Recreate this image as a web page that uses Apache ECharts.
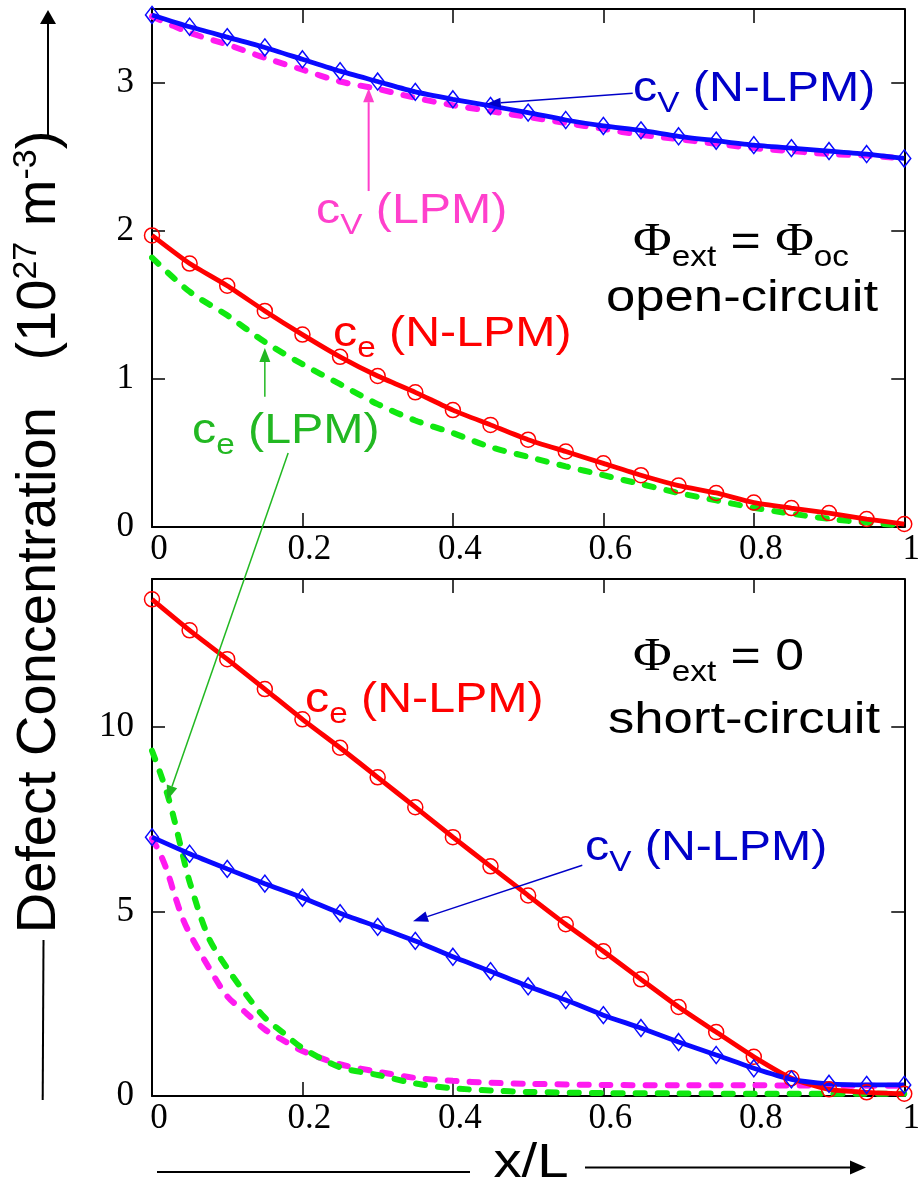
<!DOCTYPE html>
<html><head><meta charset="utf-8">
<script src="https://cdn.jsdelivr.net/npm/echarts@6/dist/echarts.min.js"></script>
<style>html,body{margin:0;padding:0;background:#fff}#c{width:923px;height:1184px}</style>
</head><body><div id="c"></div>
<script>
// ---------- data ----------
const xN = [0,0.05,0.1,0.15,0.2,0.25,0.3,0.35,0.4,0.45,0.5,0.55,0.6,0.65,0.7,0.75,0.8,0.85,0.9,0.95,1];
// top panel: open-circuit
const topCeNLPM = [1.97,1.78,1.63,1.46,1.30,1.15,1.02,0.91,0.79,0.69,0.59,0.51,0.43,0.35,0.28,0.23,0.165,0.128,0.094,0.054,0.02];
const topCeLPM  = [1.82,1.59,1.43,1.25,1.10,0.965,0.83,0.72,0.635,0.54,0.474,0.41,0.35,0.29,0.23,0.18,0.13,0.09,0.055,0.03,0.01];
const topCvNLPM = [3.46,3.38,3.31,3.24,3.16,3.08,3.01,2.94,2.89,2.845,2.80,2.75,2.71,2.68,2.64,2.61,2.58,2.56,2.54,2.52,2.49];
const topCvLPM  = [3.45,3.34,3.26,3.17,3.09,3.01,2.96,2.90,2.85,2.81,2.77,2.73,2.69,2.65,2.62,2.59,2.56,2.54,2.52,2.51,2.49];
// bottom panel: short-circuit
const botCeNLPM = [13.45,12.61,11.83,11.02,10.2,9.43,8.63,7.82,7.01,6.22,5.43,4.65,3.92,3.16,2.41,1.73,1.06,0.48,0.18,0.1,0.06];
const botCvNLPM = [7.01,6.56,6.15,5.75,5.37,4.95,4.58,4.2,3.77,3.38,2.97,2.6,2.19,1.84,1.46,1.11,0.75,0.45,0.33,0.3,0.3];
const xLPM = [0,0.01,0.02,0.03,0.04,0.05,0.075,0.1,0.125,0.15,0.175,0.2,0.25,0.3,0.35,0.4,0.45,0.5,0.6,0.7,0.8,0.9,1];
const botCeLPM = [9.35,8.8,8.2,7.45,6.6,5.8,4.3,3.46,2.75,2.12,1.7,1.3,0.78,0.57,0.34,0.21,0.15,0.11,0.08,0.07,0.06,0.06,0.06];
const botCvLPM = [6.97,6.6,6.1,5.45,4.85,4.4,3.5,2.7,2.25,1.8,1.5,1.22,0.86,0.66,0.49,0.41,0.36,0.33,0.3,0.29,0.29,0.28,0.28];
// axes
const xRange = [0, 1], xStep = 0.2;
const yTopRange = [0, 3.5], yTopStep = 1;
const yBotRange = [0, 14], yBotStep = 5;

// ---------- styles ----------
const C = {
  blue:'#0a0aff', blueTxt:'#0000c8', red:'#ff0000', mag:'#ff1af0', magTxt:'#ff40cc',
  green:'#10e810', greenTxt:'#22b822'
};
const pairs = (xs, ys) => xs.map((x,i)=>[x, ys[i]]);
const serif = 'Liberation Serif, Times New Roman, serif';
const sans = 'Liberation Sans, Arial, sans-serif';

function xAx(g, pos){
  return {gridIndex:g, type:'value', min:xRange[0], max:xRange[1], interval:xStep, position:pos,
    axisLine:{show:true, onZero:false, lineStyle:{color:'#000', width:2}},
    axisTick:{show:true, inside:true, length:14, lineStyle:{color:'#000', width:1.5}},
    axisLabel:{show:pos==='bottom', color:'#000', fontFamily:serif, fontSize:35, margin:5, padding:[0,0,0,14]},
    splitLine:{show:false}};
}
function yAx(g, pos, r, step){
  return {gridIndex:g, type:'value', min:r[0], max:r[1], interval:step, position:pos,
    axisLine:{show:true, onZero:false, lineStyle:{color:'#000', width:2}},
    axisTick:{show:true, inside:true, length:13, lineStyle:{color:'#000', width:1.5}},
    axisLabel:{show:pos==='left', color:'#000', fontFamily:serif, fontSize:35, margin:18, padding:[10,0,0,0], showMaxLabel:false},
    splitLine:{show:false}};
}
function dashed(xi, yi, data, color){
  return {type:'line', xAxisIndex:xi, yAxisIndex:yi, data, symbol:'none', smooth:0.3,
    lineStyle:{color, width:6, type:[9,13], cap:'round'}, z:2};
}
function solid(xi, yi, data, color, symbol, size){
  return {type:'line', xAxisIndex:xi, yAxisIndex:yi, data, symbol, symbolSize:size, showAllSymbol:true, smooth:0.2,
    lineStyle:{color, width:4.8}, itemStyle:{color:'rgba(255,255,255,0)', borderColor:color, borderWidth:1.5}, z:3};
}

const option = {
  animation:false, backgroundColor:'#fff',
  grid:[{left:152, right:18, top:9, height:518}, {left:152, right:18, top:579, height:517}],
  xAxis:[xAx(0,'bottom'), xAx(0,'top'), xAx(1,'bottom'), xAx(1,'top')],
  yAxis:[yAx(0,'left',yTopRange,yTopStep), yAx(0,'right',yTopRange,yTopStep), yAx(1,'left',yBotRange,yBotStep), yAx(1,'right',yBotRange,yBotStep)],
  series:[
    dashed(0,0,pairs(xN,topCeLPM),C.green),
    dashed(0,0,pairs(xN,topCvLPM),C.mag),
    solid(0,0,pairs(xN,topCeNLPM),C.red,'circle',15),
    solid(0,0,pairs(xN,topCvNLPM),C.blue,'diamond',[13,17]),
    dashed(2,2,pairs(xLPM,botCvLPM),C.mag),
    dashed(2,2,pairs(xLPM,botCeLPM),C.green),
    solid(2,2,pairs(xN,botCeNLPM),C.red,'circle',15),
    solid(2,2,pairs(xN,botCvNLPM),C.blue,'diamond',[13,17])
  ]
};
const chart = echarts.init(document.getElementById('c'));
chart.setOption(option);

// ---------- annotations ----------
const P = (g, p) => chart.convertToPixel(g===0 ? {seriesIndex:0} : {seriesIndex:4}, p);
function arrow(p0, p1, color, w, hl, hw){
  const dx=p1[0]-p0[0], dy=p1[1]-p0[1], L=Math.hypot(dx,dy), ux=dx/L, uy=dy/L;
  const bx=p1[0]-ux*hl, by=p1[1]-uy*hl, nx=-uy, ny=ux;
  return [
    {type:'line', silent:true, z:20, shape:{x1:p0[0],y1:p0[1],x2:bx,y2:by}, style:{stroke:color, lineWidth:w}},
    {type:'polygon', silent:true, z:20, shape:{points:[[p1[0],p1[1]],[bx+nx*hw/2,by+ny*hw/2],[bx-nx*hw/2,by-ny*hw/2]]}, style:{fill:color}}
  ];
}
// main tokens sit at the top of the line box, subscripts at its bottom
const richCol = {
  m:{fontFamily:sans, fontSize:42, lineHeight:44, verticalAlign:'top'},
  s:{fontFamily:sans, fontSize:29, lineHeight:50, verticalAlign:'bottom'}
};
const richBlk = {
  p:{fontFamily:serif, fontSize:46, lineHeight:46, verticalAlign:'top'},
  m:{fontFamily:sans, fontSize:45, lineHeight:46, verticalAlign:'top'},
  s:{fontFamily:sans, fontSize:29, lineHeight:52, verticalAlign:'bottom'}
};
function label(x, base, text, rich, fill, f, sx){
  return {type:'text', silent:true, z:25, x:x, y:base-(f/2+0.32*f), scaleX:sx||1.15,
    style:{text, rich, fill, font:f+'px '+sans, align:'left', verticalAlign:'top', textAlign:'left', textVerticalAlign:'top'}};
}
const g = [];
// top panel arrows
g.push(...arrow(P(0,[0.639,2.93]), P(0,[0.445,2.86]), C.blueTxt, 1.5, 14, 10));
g.push(...arrow(P(0,[0.288,2.27]), P(0,[0.288,2.965]), C.magTxt, 2, 14, 11));
g.push(...arrow(P(0,[0.15,0.88]), P(0,[0.15,1.21]), C.greenTxt, 1.5, 14, 11));
g.push(...arrow(P(0,[0.181,0.50]), P(1,[0.02,8.0]), C.greenTxt, 1.5, 15, 11));
// bottom panel arrow
g.push(...arrow(P(1,[0.572,6.25]), P(1,[0.347,4.73]), C.blueTxt, 1.5, 15, 11));
// top labels
g.push(label(633,103,'{m|c}{s|V}{m| (N-LPM)}',richCol,C.blueTxt,42));
g.push(label(316,225,'{m|c}{s|V}{m| (LPM)}',richCol,C.magTxt,42));
g.push(label(633,257,'{p|Φ}{s|ext}{m| = }{p|Φ}{s|oc}',richBlk,'#000',45));
g.push(label(606,313,'{m|open-circuit}',richBlk,'#000',45,1.17));
g.push(label(333,348,'{m|c}{s|e}{m| (N-LPM)}',richCol,C.red,42));
g.push(label(192,445,'{m|c}{s|e}{m| (LPM)}',richCol,C.greenTxt,42));
// bottom labels
g.push(label(633,672,'{p|Φ}{s|ext}{m| = 0}',richBlk,'#000',45));
g.push(label(608,735,'{m|short-circuit}',richBlk,'#000',45,1.17));
g.push(label(305,714,'{m|c}{s|e}{m| (N-LPM)}',richCol,C.red,42));
g.push(label(585,862,'{m|c}{s|V}{m| (N-LPM)}',richCol,C.blueTxt,42));
// axis titles
g.push({type:'text', silent:true, z:25, x:40, y:532, rotation:Math.PI/2,
  style:{text:'{m|Defect Concentration   (10}{u|27}{m| m}{u|-3}{m|)}', fill:'#000', align:'center', verticalAlign:'middle', textAlign:'center', textVerticalAlign:'middle',
    rich:{m:{fontFamily:sans, fontSize:56, lineHeight:60}, u:{fontFamily:sans, fontSize:34, lineHeight:22, verticalAlign:'top'}}}});
g.push({type:'line', silent:true, shape:{x1:43.5,y1:940,x2:42.7,y2:1100}, style:{stroke:'#000', lineWidth:2}});
g.push(...arrow([48,135],[48,10],'#000',2,14,16));
g.push({type:'text', silent:true, z:25, x:531, y:1163, scaleX:1.15,
  style:{text:'x/L', font:'49px '+sans, fill:'#000', align:'center', verticalAlign:'middle', textAlign:'center', textVerticalAlign:'middle'}});
g.push({type:'line', silent:true, shape:{x1:157,y1:1172,x2:470,y2:1172}, style:{stroke:'#000', lineWidth:2}});
g.push(...arrow([585,1167.5],[866,1167.5],'#000',2,16,14));
chart.setOption({graphic:g});
</script>
</body></html>
